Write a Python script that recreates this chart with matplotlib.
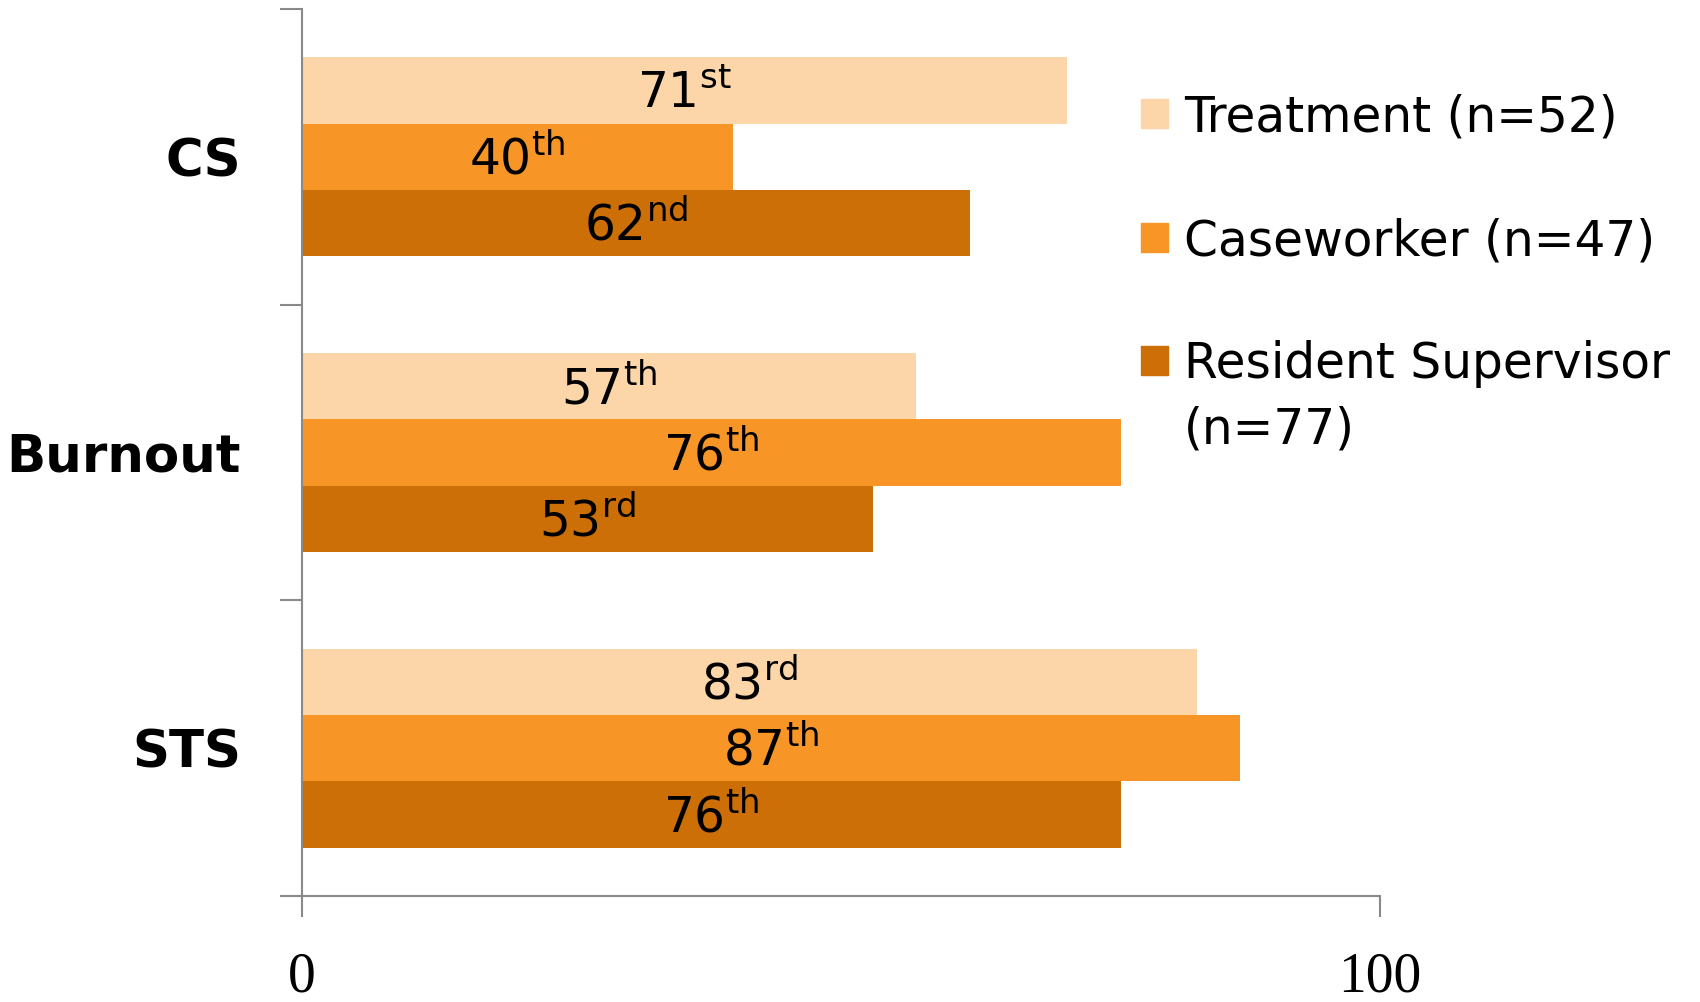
import matplotlib
matplotlib.use("Agg")
import matplotlib.pyplot as plt
from matplotlib.patches import Rectangle
import numpy as np

# ---- data ----
categories = ["CS", "Burnout", "STS"]
groups = ["Treatment (n=52)", "Caseworker (n=47)", "Resident Supervisor\n(n=77)"]
treatment = [71, 57, 83]
caseworker = [40, 76, 87]
supervisor = [62, 53, 76]
colors = ["#FCD5A8", "#F79627", "#CC6F06"]

GREY = "#898989"
W, H = 1700, 1002


def ordinal(n):
    if 10 <= n % 100 <= 20:
        return "th"
    return {1: "st", 2: "nd", 3: "rd"}.get(n % 10, "th")


fig = plt.figure(figsize=(W / 100, H / 100), dpi=100)
ax = fig.add_axes([302 / W, 1 - 896 / H, (1380 - 302) / W, (896 - 9) / H])

y = np.arange(len(categories))
h = 0.224
fs_lab = 35
for i, (vals, c) in enumerate(zip([treatment, caseworker, supervisor], colors)):
    pos = y + (i - 1) * h
    ax.barh(pos, vals, height=h, color=c, edgecolor="none")
    for p, v in zip(pos, vals):
        ax.annotate(f"${v}^{{\\mathrm{{{ordinal(v)}}}}}$", (v / 2, p),
                    xytext=(0, -0.73 * fs_lab / 2), textcoords="offset points",
                    ha="center", va="baseline", fontsize=fs_lab, color="black")

ax.set_xlim(0, 100)
ax.set_ylim(2.5, -0.5)

# category boundaries as major ticks, names as minor ticks
ax.set_yticks([-0.5, 0.5, 1.5, 2.5])
ax.set_yticklabels([])
ax.set_yticks(y, minor=True)
ax.set_yticklabels(categories, minor=True, fontsize=37, fontweight="bold")
ax.tick_params(axis="y", which="minor", length=0, pad=44)
ax.tick_params(axis="y", which="major", length=16, width=1.5, color=GREY)

ax.set_xticks([0, 100])
ax.set_xticklabels(["0", "100"], fontsize=40, family="Liberation Serif")
ax.tick_params(axis="x", length=15, width=1.5, color=GREY, pad=25)

for s in ["top", "right"]:
    ax.spines[s].set_visible(False)
for s in ["left", "bottom"]:
    ax.spines[s].set_color(GREY)
    ax.spines[s].set_linewidth(1.5)

# ---- legend drawn by hand ----
box_tops = [99, 223, 346]
baselines = [131, 255, 378]
line_step = 65
for lab, c, top, base in zip(groups, colors, box_tops, baselines):
    fig.patches.append(Rectangle((1141 / W, 1 - (top + 29) / H), 27 / W, 29 / H,
                                 transform=fig.transFigure, color=c))
    for k, line in enumerate(lab.split("\n")):
        fig.text(1184 / W, 1 - (base + k * line_step) / H, line, fontsize=35,
                 va="baseline", ha="left")

fig.savefig("out.png", dpi=100)
